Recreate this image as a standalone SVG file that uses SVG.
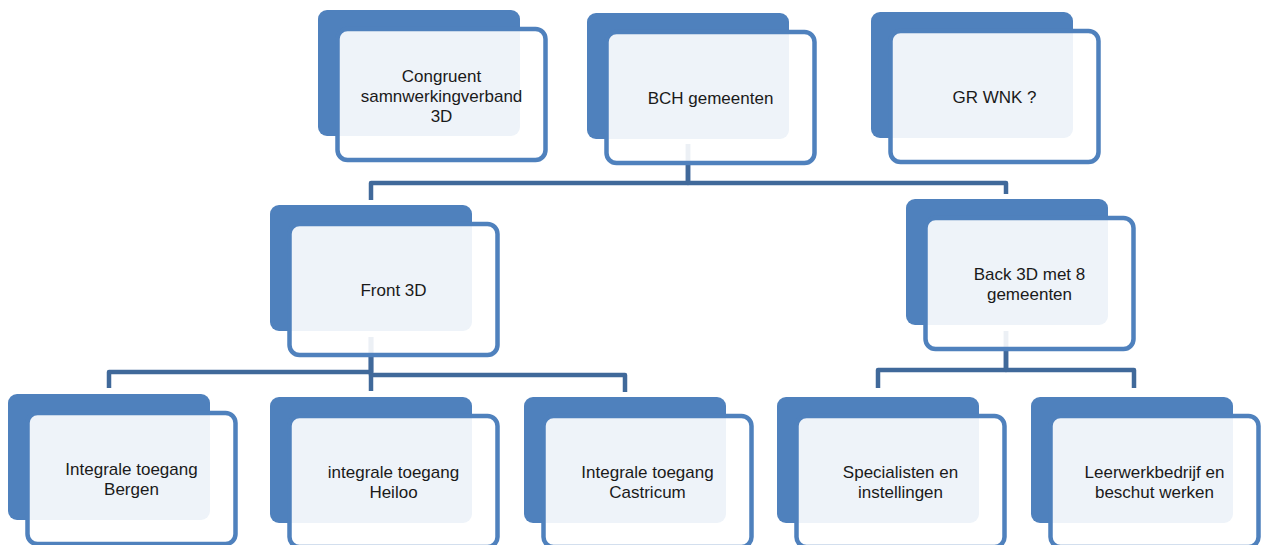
<svg xmlns="http://www.w3.org/2000/svg" width="1262" height="545" viewBox="0 0 1262 545">
<defs>
<style>
.conn{fill:none;stroke:#40699A;stroke-width:4.5;stroke-linejoin:round}
.back{fill:#4F81BD}
.front{fill:#FFFFFF;fill-opacity:0.9;stroke:#4F81BD;stroke-width:4.5}
.lbl{font-family:"Liberation Sans",Arial,sans-serif;font-size:17px;fill:#1A1A1A;text-anchor:middle}
</style>
</defs>
<rect x="0" y="0" width="1262" height="545" fill="#FFFFFF"/>
<g id="connectors">
<path class="conn" d="M688,144 V183 H371 V200"/>
<path class="conn" d="M688,144 V183 H1006 V194"/>
<path class="conn" d="M371,337 V372 H109 V388"/>
<path class="conn" d="M371,337 V391"/>
<path class="conn" d="M371,337 V375 H625 V392"/>
<path class="conn" d="M1006,331 V370 H878 V388"/>
<path class="conn" d="M1006,331 V370 H1134 V388"/>
</g>
<g id="node-congruent">
<rect class="back" x="318" y="10" width="202" height="126" rx="9"/>
<rect class="front" x="337.5" y="29" width="208" height="131" rx="10"/>
<text class="lbl"><tspan x="441.5" y="82">Congruent</tspan><tspan x="441.5" y="102">samnwerkingverband</tspan><tspan x="441.5" y="122">3D</tspan></text>
</g>
<g id="node-bch">
<rect class="back" x="587" y="13" width="202" height="126" rx="9"/>
<rect class="front" x="606.5" y="32" width="208" height="131" rx="10"/>
<text class="lbl" x="710.5" y="103.5">BCH gemeenten</text>
</g>
<g id="node-grwnk">
<rect class="back" x="871" y="12" width="202" height="126" rx="9"/>
<rect class="front" x="890.5" y="31" width="208" height="131" rx="10"/>
<text class="lbl" x="994.5" y="102.5">GR WNK ?</text>
</g>
<g id="node-front3d">
<rect class="back" x="270" y="205" width="202" height="126" rx="9"/>
<rect class="front" x="289.5" y="224" width="208" height="131" rx="10"/>
<text class="lbl" x="393.5" y="295.5">Front 3D</text>
</g>
<g id="node-back3d">
<rect class="back" x="906" y="199" width="202" height="126" rx="9"/>
<rect class="front" x="925.5" y="218" width="208" height="131" rx="10"/>
<text class="lbl"><tspan x="1029.5" y="279.5">Back 3D met 8</tspan><tspan x="1029.5" y="299.5">gemeenten</tspan></text>
</g>
<g id="node-bergen">
<rect class="back" x="8" y="394" width="202" height="126" rx="9"/>
<rect class="front" x="27.5" y="413" width="208" height="131" rx="10"/>
<text class="lbl"><tspan x="131.5" y="474.5">Integrale toegang</tspan><tspan x="131.5" y="494.5">Bergen</tspan></text>
</g>
<g id="node-heiloo">
<rect class="back" x="270" y="397" width="202" height="126" rx="9"/>
<rect class="front" x="289.5" y="416" width="208" height="131" rx="10"/>
<text class="lbl"><tspan x="393.5" y="477.5">integrale toegang</tspan><tspan x="393.5" y="497.5">Heiloo</tspan></text>
</g>
<g id="node-castricum">
<rect class="back" x="524" y="397" width="202" height="126" rx="9"/>
<rect class="front" x="543.5" y="416" width="208" height="131" rx="10"/>
<text class="lbl"><tspan x="647.5" y="477.5">Integrale toegang</tspan><tspan x="647.5" y="497.5">Castricum</tspan></text>
</g>
<g id="node-specialisten">
<rect class="back" x="777" y="397" width="202" height="126" rx="9"/>
<rect class="front" x="796.5" y="416" width="208" height="131" rx="10"/>
<text class="lbl"><tspan x="900.5" y="477.5">Specialisten en</tspan><tspan x="900.5" y="497.5">instellingen</tspan></text>
</g>
<g id="node-leerwerkbedrijf">
<rect class="back" x="1031" y="397" width="202" height="126" rx="9"/>
<rect class="front" x="1050.5" y="416" width="208" height="131" rx="10"/>
<text class="lbl"><tspan x="1154.5" y="477.5">Leerwerkbedrijf en</tspan><tspan x="1154.5" y="497.5">beschut werken</tspan></text>
</g>
</svg>
